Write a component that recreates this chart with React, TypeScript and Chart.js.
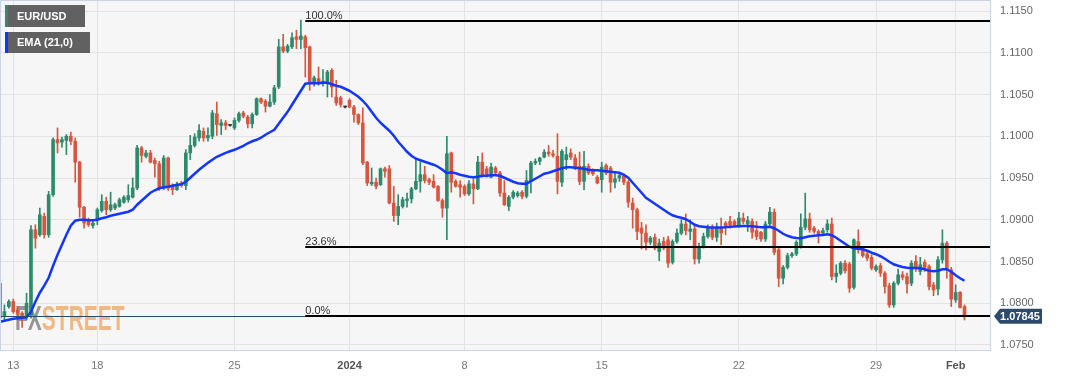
import React, { useEffect, useRef } from 'react';
import { Chart, registerables } from 'chart.js';

Chart.register(...registerables);

// ---- Data (EUR/USD, 4-hour candles, 12 Dec 2023 -> 1 Feb 2024) ----
const OPEN = [
  1.0824, 1.0784, 1.0796, 1.0802, 1.0792, 1.0788, 1.0784, 1.0786, 1.0888, 1.0882,
  1.0904, 1.0882, 1.0930, 1.0996, 1.0993, 1.0995, 1.1000, 1.0994, 1.0969, 1.0915,
  1.0899, 1.0893, 1.0900, 1.0911, 1.0922, 1.0912, 1.0914, 1.0916, 1.0921, 1.0924,
  1.0927, 1.0938, 1.0986, 1.0976, 1.0980, 1.0971, 1.0967, 1.0938, 1.0974, 1.0940,
  1.0936, 1.0944, 1.0941, 1.0980, 1.0989, 1.0998, 1.1006, 1.0998, 1.1000, 1.1027,
  1.1013, 1.1016, 1.1013, 1.1010, 1.1019, 1.1028, 1.1023, 1.1015, 1.1026, 1.1045,
  1.1042, 1.1036, 1.1041, 1.1059, 1.1107, 1.1102, 1.1107, 1.1119, 1.1116, 1.1119,
  1.1107, 1.1065, 1.1069, 1.1064, 1.1064, 1.1079, 1.1047, 1.1046, 1.1035, 1.1043,
  1.1035, 1.1026, 1.1016, 1.0969, 1.0943, 1.0945, 1.0942, 1.0961, 1.0961, 1.0920,
  1.0905, 1.0916, 1.0923, 1.0925, 1.0937, 1.0946, 1.0954, 1.0948, 1.0946, 1.0940,
  1.0923, 1.0914, 1.0980, 1.0946, 1.0942, 1.0940, 1.0931, 1.0943, 1.0937, 1.0969,
  1.0961, 1.0951, 1.0962, 1.0956, 1.0932, 1.0916, 1.0927, 1.0929, 1.0933, 1.0928,
  1.0946, 1.0968, 1.0970, 1.0975, 1.0981, 1.0979, 1.0976, 1.0945, 1.0972, 1.0980,
  1.0974, 1.0964, 1.0946, 1.0964, 1.0958, 1.0951, 1.0948, 1.0965, 1.0962, 1.0945,
  1.0950, 1.0952, 1.0945, 1.0920, 1.0912, 1.0890, 1.0884, 1.0873, 1.0879, 1.0862,
  1.0874, 1.0876, 1.0849, 1.0874, 1.0884, 1.0895, 1.0886, 1.0889, 1.0853, 1.0868,
  1.0880, 1.0890, 1.0879, 1.0890, 1.0896, 1.0898, 1.0898, 1.0893, 1.0902, 1.0895,
  1.0898, 1.0887, 1.0885, 1.0877, 1.0895, 1.0909, 1.0864, 1.0830, 1.0843, 1.0857,
  1.0859, 1.0868, 1.0891, 1.0901, 1.0890, 1.0886, 1.0884, 1.0888, 1.0895, 1.0832,
  1.0836, 1.0848, 1.0847, 1.0819, 1.0874, 1.0865, 1.0859, 1.0855, 1.0840, 1.0845,
  1.0836, 1.0821, 1.0798, 1.0824, 1.0834, 1.0832, 1.0824, 1.0850, 1.0838, 1.0849,
  1.0844, 1.0822, 1.0817, 1.0852, 1.0872, 1.0840, 1.0804, 1.0813, 1.0796,
];

const HIGH = [
  1.0828, 1.0798, 1.0804, 1.0805, 1.0796, 1.0790, 1.0812, 1.0893, 1.0894, 1.0914,
  1.0908, 1.0934, 1.0998, 1.1010, 1.0999, 1.1002, 1.1005, 1.0998, 1.0970, 1.0916,
  1.0902, 1.0898, 1.0914, 1.0930, 1.0927, 1.0933, 1.0920, 1.0926, 1.0929, 1.0942,
  1.0950, 1.0989, 1.0988, 1.0983, 1.0983, 1.0974, 1.0970, 1.0977, 1.0975, 1.0943,
  1.0945, 1.0946, 1.0984, 1.1001, 1.1003, 1.1014, 1.1010, 1.1010, 1.1031, 1.1041,
  1.1020, 1.1019, 1.1014, 1.1022, 1.1029, 1.1030, 1.1025, 1.1028, 1.1046, 1.1046,
  1.1044, 1.1050, 1.1061, 1.1116, 1.1122, 1.1110, 1.1124, 1.1127, 1.1139, 1.1121,
  1.1108, 1.1072, 1.1083, 1.1080, 1.1079, 1.1081, 1.1067, 1.1048, 1.1036, 1.1045,
  1.1037, 1.1027, 1.1034, 1.0970, 1.0962, 1.0950, 1.0962, 1.0963, 1.0965, 1.0940,
  1.0930, 1.0927, 1.0932, 1.0939, 1.0974, 1.0969, 1.0964, 1.0950, 1.0954, 1.0941,
  1.0925, 1.1000, 1.0981, 1.0948, 1.0947, 1.0942, 1.0947, 1.0950, 1.0976, 1.0980,
  1.0964, 1.0968, 1.0964, 1.0958, 1.0947, 1.0929, 1.0935, 1.0934, 1.0935, 1.0959,
  1.0970, 1.0973, 1.0975, 1.0984, 1.0989, 1.0983, 1.1003, 1.0984, 1.0987, 1.0985,
  1.0978, 1.0981, 1.0982, 1.0967, 1.0961, 1.0953, 1.0969, 1.0967, 1.0964, 1.0958,
  1.0956, 1.0955, 1.0947, 1.0926, 1.0914, 1.0897, 1.0894, 1.0880, 1.0883, 1.0877,
  1.0879, 1.0880, 1.0876, 1.0889, 1.0900, 1.0907, 1.0900, 1.0895, 1.0872, 1.0884,
  1.0894, 1.0894, 1.0896, 1.0902, 1.0898, 1.0904, 1.0900, 1.0909, 1.0908, 1.0904,
  1.0901, 1.0898, 1.0886, 1.0898, 1.0915, 1.0913, 1.0866, 1.0845, 1.0860, 1.0861,
  1.0875, 1.0907, 1.0932, 1.0908, 1.0892, 1.0888, 1.0890, 1.0900, 1.0902, 1.0846,
  1.0850, 1.0851, 1.0849, 1.0877, 1.0888, 1.0867, 1.0862, 1.0858, 1.0846, 1.0848,
  1.0838, 1.0824, 1.0826, 1.0841, 1.0838, 1.0836, 1.0851, 1.0857, 1.0855, 1.0852,
  1.0846, 1.0825, 1.0856, 1.0888, 1.0874, 1.0843, 1.0822, 1.0814, 1.0798,
];

const LOW = [
  1.0768, 1.0780, 1.0794, 1.0788, 1.0780, 1.0771, 1.0780, 1.0782, 1.0866, 1.0880,
  1.0878, 1.0879, 1.0928, 1.0980, 1.0987, 1.0978, 1.0990, 1.0945, 1.0903, 1.0890,
  1.0892, 1.0890, 1.0894, 1.0909, 1.0906, 1.0910, 1.0912, 1.0915, 1.0920, 1.0921,
  1.0926, 1.0936, 1.0969, 1.0974, 1.0968, 1.0951, 1.0935, 1.0936, 1.0935, 1.0930,
  1.0935, 1.0939, 1.0936, 1.0972, 1.0987, 1.0994, 1.0994, 1.0994, 1.0997, 1.1001,
  1.1002, 1.1008, 1.1012, 1.1008, 1.1017, 1.1022, 1.1010, 1.1010, 1.1025, 1.1039,
  1.1029, 1.1035, 1.1038, 1.1057, 1.1100, 1.1100, 1.1105, 1.1105, 1.1105, 1.1071,
  1.1055, 1.1060, 1.1061, 1.1060, 1.1047, 1.1047, 1.1037, 1.1035, 1.1034, 1.1034,
  1.1017, 1.1014, 1.0966, 1.0941, 1.0941, 1.0937, 1.0941, 1.0951, 1.0919, 1.0898,
  1.0894, 1.0914, 1.0915, 1.0920, 1.0936, 1.0933, 1.0944, 1.0942, 1.0938, 1.0922,
  1.0903, 1.0876, 1.0933, 1.0939, 1.0927, 1.0929, 1.0929, 1.0919, 1.0936, 1.0951,
  1.0951, 1.0950, 1.0953, 1.0928, 1.0917, 1.0911, 1.0925, 1.0927, 1.0925, 1.0926,
  1.0932, 1.0966, 1.0966, 1.0974, 1.0976, 1.0975, 1.0931, 1.0940, 1.0960, 1.0972,
  1.0960, 1.0942, 1.0936, 1.0954, 1.0953, 1.0943, 1.0933, 1.0954, 1.0933, 1.0938,
  1.0946, 1.0942, 1.0915, 1.0890, 1.0876, 1.0865, 1.0864, 1.0870, 1.0864, 1.0851,
  1.0864, 1.0843, 1.0847, 1.0872, 1.0882, 1.0882, 1.0876, 1.0847, 1.0848, 1.0866,
  1.0878, 1.0876, 1.0874, 1.0870, 1.0882, 1.0890, 1.0892, 1.0891, 1.0895, 1.0886,
  1.0878, 1.0876, 1.0874, 1.0874, 1.0893, 1.0858, 1.0820, 1.0823, 1.0841, 1.0855,
  1.0857, 1.0866, 1.0888, 1.0885, 1.0884, 1.0872, 1.0881, 1.0885, 1.0828, 1.0825,
  1.0834, 1.0836, 1.0813, 1.0817, 1.0860, 1.0855, 1.0851, 1.0840, 1.0838, 1.0832,
  1.0812, 1.0795, 1.0795, 1.0822, 1.0828, 1.0812, 1.0821, 1.0838, 1.0834, 1.0838,
  1.0816, 1.0809, 1.0810, 1.0848, 1.0830, 1.0796, 1.0801, 1.0794, 1.0780,
];

const CLOSE = [
  1.0782, 1.0790, 1.0802, 1.0790, 1.0787, 1.0783, 1.0800, 1.0888, 1.0878, 1.0906,
  1.0882, 1.0930, 1.0996, 1.0992, 1.0996, 1.1000, 1.0994, 1.0969, 1.0915, 1.0896,
  1.0894, 1.0896, 1.0912, 1.0922, 1.0912, 1.0918, 1.0918, 1.0924, 1.0927, 1.0929,
  1.0938, 1.0986, 1.0977, 1.0980, 1.0969, 1.0967, 1.0938, 1.0974, 1.0938, 1.0936,
  1.0942, 1.0941, 1.0980, 1.0989, 1.0999, 1.1007, 1.0998, 1.1001, 1.1028, 1.1014,
  1.1016, 1.1013, 1.1013, 1.1019, 1.1027, 1.1024, 1.1015, 1.1026, 1.1045, 1.1041,
  1.1036, 1.1041, 1.1058, 1.1107, 1.1102, 1.1108, 1.1118, 1.1116, 1.1120, 1.1106,
  1.1065, 1.1070, 1.1065, 1.1066, 1.1077, 1.1059, 1.1040, 1.1038, 1.1035, 1.1035,
  1.1026, 1.1016, 1.0968, 1.0944, 1.0945, 1.0940, 1.0961, 1.0958, 1.0920, 1.0905,
  1.0916, 1.0924, 1.0925, 1.0937, 1.0946, 1.0954, 1.0947, 1.0945, 1.0939, 1.0923,
  1.0914, 1.0979, 1.0945, 1.0940, 1.0939, 1.0931, 1.0943, 1.0937, 1.0969, 1.0953,
  1.0954, 1.0963, 1.0956, 1.0932, 1.0918, 1.0927, 1.0933, 1.0932, 1.0928, 1.0947,
  1.0968, 1.0970, 1.0974, 1.0981, 1.0979, 1.0977, 1.0946, 1.0982, 1.0978, 1.0975,
  1.0962, 1.0946, 1.0964, 1.0956, 1.0955, 1.0944, 1.0963, 1.0956, 1.0945, 1.0949,
  1.0953, 1.0945, 1.0921, 1.0912, 1.0886, 1.0884, 1.0873, 1.0878, 1.0866, 1.0872,
  1.0866, 1.0848, 1.0874, 1.0884, 1.0895, 1.0887, 1.0889, 1.0853, 1.0868, 1.0880,
  1.0890, 1.0879, 1.0890, 1.0884, 1.0891, 1.0894, 1.0894, 1.0902, 1.0898, 1.0899,
  1.0885, 1.0880, 1.0877, 1.0895, 1.0909, 1.0861, 1.0830, 1.0843, 1.0857, 1.0859,
  1.0873, 1.0891, 1.0901, 1.0888, 1.0886, 1.0882, 1.0887, 1.0895, 1.0832, 1.0836,
  1.0848, 1.0839, 1.0818, 1.0876, 1.0865, 1.0857, 1.0854, 1.0842, 1.0844, 1.0836,
  1.0820, 1.0798, 1.0824, 1.0834, 1.0831, 1.0823, 1.0848, 1.0843, 1.0846, 1.0843,
  1.0820, 1.0816, 1.0852, 1.0872, 1.0840, 1.0805, 1.0813, 1.0795, 1.07845,
];

const EMA21 = [
  1.07778, 1.0779, 1.07802, 1.07814, 1.0782, 1.07826, 1.07832, 1.07898, 1.08018, 1.08126,
  1.0821, 1.08305, 1.08449, 1.08581, 1.08701, 1.0882, 1.08928, 1.08988, 1.09, 1.09,
  1.08994, 1.08994, 1.09, 1.09018, 1.0903, 1.09048, 1.0906, 1.09072, 1.09084, 1.09096,
  1.0912, 1.0918, 1.09228, 1.09275, 1.09323, 1.09353, 1.09377, 1.09389, 1.09395, 1.09407,
  1.09419, 1.09425, 1.09455, 1.09503, 1.09551, 1.09599, 1.09641, 1.09683, 1.09719, 1.09754,
  1.09778, 1.09802, 1.0982, 1.09838, 1.09862, 1.09886, 1.09916, 1.0994, 1.09958, 1.09982,
  1.10018, 1.10048, 1.10078, 1.1015, 1.10222, 1.10293, 1.10377, 1.10461, 1.10545, 1.10629,
  1.10635, 1.10635, 1.10635, 1.10641, 1.10641, 1.10623, 1.10605, 1.10593, 1.10569, 1.10545,
  1.10509, 1.10473, 1.10425, 1.10365, 1.10293, 1.10222, 1.10162, 1.10114, 1.10066, 1.10006,
  1.09934, 1.09874, 1.09814, 1.09766, 1.09731, 1.09713, 1.09695, 1.09677, 1.09659, 1.09635,
  1.09599, 1.09557, 1.09569, 1.09557, 1.09539, 1.09527, 1.09515, 1.09509, 1.09515, 1.09527,
  1.09527, 1.09533, 1.09533, 1.09527, 1.09503, 1.09479, 1.09455, 1.09437, 1.09431, 1.09431,
  1.09461, 1.09491, 1.09521, 1.09551, 1.09563, 1.09581, 1.09599, 1.09617, 1.09629, 1.09629,
  1.09623, 1.09617, 1.09611, 1.09599, 1.09593, 1.09593, 1.09587, 1.09581, 1.09575, 1.09569,
  1.09563, 1.09539, 1.09503, 1.09443, 1.09383, 1.09323, 1.09263, 1.09228, 1.09192, 1.09156,
  1.0912, 1.09084, 1.09054, 1.09036, 1.09024, 1.09006, 1.08976, 1.0894, 1.08922, 1.08916,
  1.0891, 1.08908, 1.08908, 1.08908, 1.0891, 1.08916, 1.0892, 1.08922, 1.08925, 1.08925,
  1.08922, 1.08916, 1.0891, 1.0891, 1.08916, 1.08898, 1.08868, 1.08832, 1.08808, 1.0879,
  1.08781, 1.08778, 1.0879, 1.08802, 1.08808, 1.08814, 1.08817, 1.08826, 1.08814, 1.08784,
  1.08749, 1.08713, 1.08677, 1.08659, 1.08653, 1.08647, 1.08629, 1.08605, 1.08587, 1.08563,
  1.08533, 1.08497, 1.08467, 1.08449, 1.08434, 1.08425, 1.08422, 1.08422, 1.08419, 1.08407,
  1.08389, 1.08383, 1.08389, 1.08407, 1.08407, 1.08377, 1.08335, 1.08299, 1.08269,
];

// x-axis: candle index of each labelled day, and its label
const X_TICK_INDEX = [3, 22, 53, 79, 105, 136, 167, 198, 216];
const X_TICK_LABELS = ['13', '18', '25', '2024', '8', '15', '22', '29', 'Feb'];
const BOLD_X_LABELS = ['2024', 'Feb'];

// y-axis ticks
const Y_TICKS = [1.075, 1.08, 1.085, 1.09, 1.095, 1.1, 1.105, 1.11, 1.115];
const Y_MIN = 1.0744;
const Y_MAX = 1.1162;

// Fibonacci retracement
const FIB_HIGH = 1.1138;
const FIB_LOW = 1.07845;
const FIB_LEVELS = [1, 0.236, 0];
const FIB_LABELS = ['100.0%', '23.6%', '0.0%'];
const FIB_START_INDEX = 69;

const LAST_PRICE = 1.07845;
const LAST_PRICE_LABEL = '1.07845';

const SERIES_NAME = 'EUR/USD';
const EMA_NAME = 'EMA (21,0)';

const UP = '#2e8a6c';
const DOWN = '#d7563f';
const DOJI = '#333333';
const EMA_COLOR = '#1236ff';
const FONT = '"Liberation Sans", Arial, Helvetica, sans-serif';

const candleColors = OPEN.map((o, i) => (CLOSE[i] > o ? UP : CLOSE[i] < o ? DOWN : DOJI));

const decorPlugin = {
  id: 'decor',
  beforeDraw(chart: any) {
    const { ctx, chartArea: a } = chart;
    ctx.save();
    ctx.fillStyle = '#f6f6f6';
    ctx.fillRect(a.left, a.top, a.right - a.left, a.bottom - a.top);
    ctx.restore();
  },
  beforeDatasetsDraw(chart: any) {
    const { ctx, chartArea: a } = chart;
    ctx.save();
    ctx.beginPath();
    ctx.rect(a.left, a.top, a.right - a.left, a.bottom - a.top);
    ctx.clip();
    ctx.translate(a.left + 15, a.bottom - 20);
    ctx.scale(0.6, 1);
    ctx.font = `bold 35px ${FONT}`;
    ctx.textBaseline = 'alphabetic';
    ctx.textAlign = 'left';
    ctx.fillStyle = 'rgba(125,125,125,0.8)';
    ctx.fillText('FX', 0, 0);
    const w = ctx.measureText('FX').width;
    ctx.fillStyle = 'rgba(238,160,80,0.7)';
    ctx.fillText('STREET', w, 0);
    ctx.restore();
  },
  afterDatasetsDraw(chart: any) {
    const { ctx, chartArea: a, scales } = chart;
    const xs = scales.x;
    const ys = scales.y;
    ctx.save();
    // current price line
    const py = Math.round(ys.getPixelForValue(LAST_PRICE)) + 0.5;
    ctx.strokeStyle = '#2c4a6e';
    ctx.lineWidth = 1;
    ctx.beginPath();
    ctx.moveTo(a.left, py);
    ctx.lineTo(a.right, py);
    ctx.stroke();
    // fib lines
    const x0 = xs.getPixelForValue(FIB_START_INDEX);
    FIB_LEVELS.forEach((lvl, i) => {
      const v = FIB_LOW + lvl * (FIB_HIGH - FIB_LOW);
      const y = Math.round(ys.getPixelForValue(v));
      ctx.strokeStyle = '#000';
      ctx.lineWidth = 2;
      ctx.beginPath();
      ctx.moveTo(x0, y);
      ctx.lineTo(a.right, y);
      ctx.stroke();
      ctx.fillStyle = '#333';
      ctx.font = `11px ${FONT}`;
      ctx.textAlign = 'left';
      ctx.textBaseline = 'alphabetic';
      ctx.fillText(FIB_LABELS[i], x0, y - 2);
    });
    ctx.restore();
  },
  afterDraw(chart: any) {
    const { ctx, chartArea: a, scales } = chart;
    ctx.save();
    ctx.strokeStyle = '#cbd3e6';
    ctx.lineWidth = 1;
    ctx.strokeRect(a.left + 0.5, a.top - 0.5, a.right - a.left, a.bottom - a.top + 1);
    // last price tag
    const y = scales.y.getPixelForValue(LAST_PRICE);
    const tip = a.right + 4;
    const left = a.right + 10;
    const right = a.right + 52;
    ctx.fillStyle = '#2d4a6d';
    ctx.beginPath();
    ctx.moveTo(tip, y);
    ctx.lineTo(left, y - 7.5);
    ctx.lineTo(right, y - 7.5);
    ctx.lineTo(right, y + 7.5);
    ctx.lineTo(left, y + 7.5);
    ctx.closePath();
    ctx.fill();
    ctx.fillStyle = '#fff';
    ctx.font = `bold 11px ${FONT}`;
    ctx.textAlign = 'center';
    ctx.textBaseline = 'middle';
    ctx.fillText(LAST_PRICE_LABEL, (left + right) / 2 - 1, y + 0.5);
    ctx.restore();
  },
};

export default function App() {
  const canvasRef = useRef<HTMLCanvasElement | null>(null);

  useEffect(() => {
    if (!canvasRef.current) return;
    const idx = OPEN.map((_, i) => i);
    const chart = new Chart(canvasRef.current, {
      type: 'bar',
      data: {
        datasets: [
          {
            type: 'line',
            label: EMA_NAME,
            data: idx.map((i) => ({ x: i, y: EMA21[i] })),
            borderColor: EMA_COLOR,
            borderWidth: 2.5,
            pointRadius: 0,
            tension: 0,
            order: 0,
          } as any,
          {
            label: 'body',
            data: idx.map((i) => ({ x: i, y: [OPEN[i], CLOSE[i]] })),
            backgroundColor: candleColors,
            borderWidth: 0,
            barThickness: 3,
            minBarLength: 1,
            grouped: false,
            order: 1,
          },
          {
            label: 'wick',
            data: idx.map((i) => ({ x: i, y: [LOW[i], HIGH[i]] })),
            backgroundColor: candleColors,
            borderWidth: 0,
            barThickness: 1,
            grouped: false,
            order: 2,
          },
        ],
      },
      options: {
        animation: false,
        responsive: false,
        devicePixelRatio: 1,
        events: [],
        layout: { padding: { top: 1, left: 0, right: 0, bottom: 0 } },
        plugins: { legend: { display: false }, tooltip: { enabled: false } },
        scales: {
          x: {
            type: 'linear',
            min: 0,
            max: 223.76,
            offset: false,
            border: { display: false },
            grid: { color: '#e3e3e3', offset: false, drawTicks: false },
            ticks: {
              autoSkip: false,
              maxRotation: 0,
              padding: 9,
              color: (c: any) => (BOLD_X_LABELS.includes(X_TICK_LABELS[c.index]) ? '#555' : '#777'),
              font: (c: any) => ({
                family: FONT,
                size: 11,
                weight: BOLD_X_LABELS.includes(X_TICK_LABELS[c.index]) ? 'bold' : 'normal',
              }),
              callback: (_v: any, i: number) => X_TICK_LABELS[i],
            },
            afterBuildTicks: (s: any) => {
              s.ticks = X_TICK_INDEX.map((v) => ({ value: v }));
            },
            afterFit: (s: any) => {
              s.height = 26;
              s.paddingLeft = 0;
              s.paddingRight = 0;
              s.paddingTop = 0;
              s.paddingBottom = 0;
            },
          },
          y: {
            position: 'right',
            min: Y_MIN,
            max: Y_MAX,
            border: { display: false },
            grid: { color: '#e3e3e3', drawTicks: false },
            ticks: {
              padding: 10,
              color: '#666',
              font: { family: FONT, size: 11 },
              callback: (v: any) => Number(v).toFixed(4),
            },
            afterBuildTicks: (s: any) => {
              s.ticks = Y_TICKS.map((v) => ({ value: v }));
            },
            afterFit: (s: any) => {
              s.width = 77;
              s.paddingTop = 0;
              s.paddingBottom = 0;
              s.paddingLeft = 0;
              s.paddingRight = 0;
            },
          },
        },
      } as any,
      plugins: [decorPlugin],
    });
    return () => chart.destroy();
  }, []);

  const boxBase: React.CSSProperties = {
    position: 'absolute',
    left: 5,
    background: 'rgba(88,88,88,0.95)',
    color: '#fff',
    font: `bold 11px ${FONT}`,
    paddingLeft: 9,
    boxSizing: 'border-box',
    whiteSpace: 'nowrap',
  };

  return (
    <div style={{ position: 'fixed', left: 0, top: 0, width: 1067, height: 376, background: '#fff' }}>
      <canvas ref={canvasRef} width={1067} height={376} style={{ display: 'block', width: 1067, height: 376 }} />
      <div style={{ ...boxBase, top: 5, width: 80, height: 22, lineHeight: '22px', borderLeft: `3px solid ${UP}` }}>
        {SERIES_NAME}
      </div>
      <div style={{ ...boxBase, top: 32, width: 85, height: 21, lineHeight: '21px', borderLeft: `3px solid ${EMA_COLOR}` }}>
        {EMA_NAME}
      </div>
    </div>
  );
}
